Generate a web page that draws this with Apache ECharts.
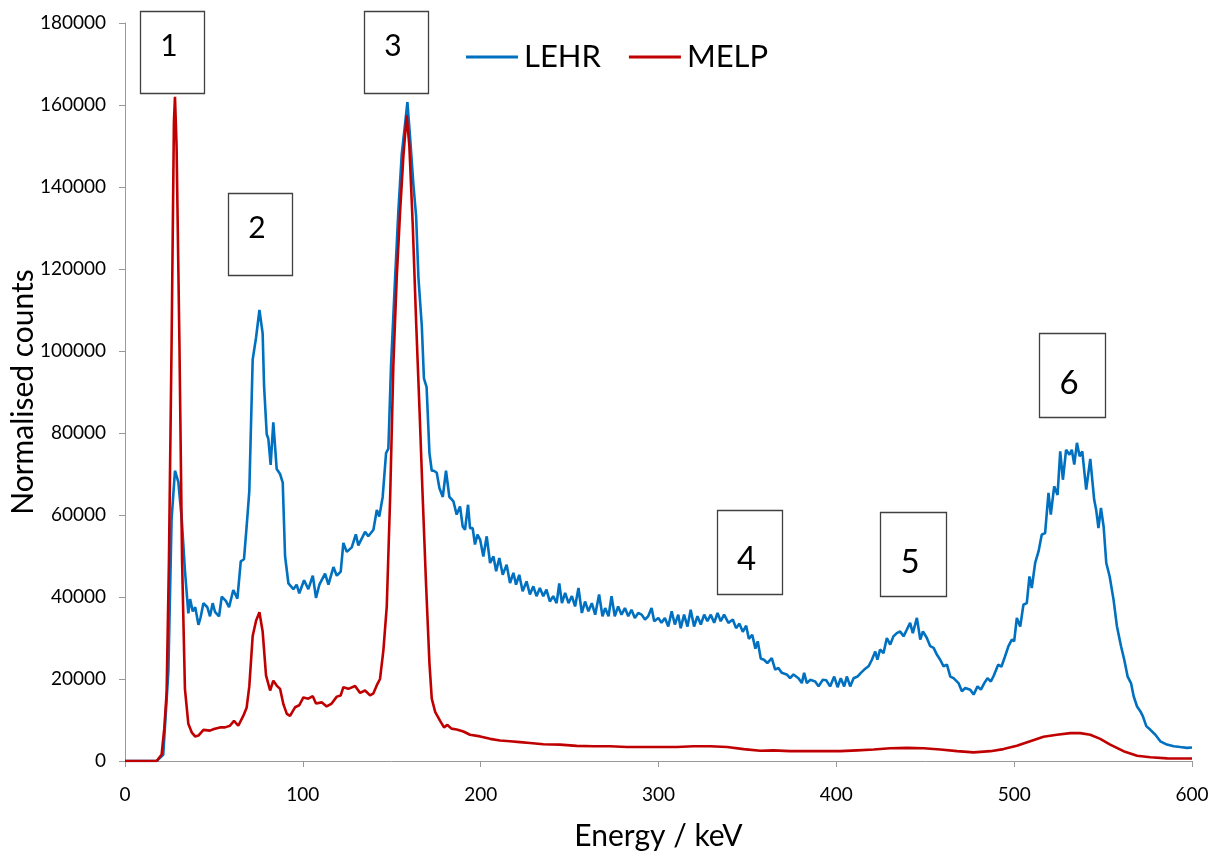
<!DOCTYPE html>
<html><head><meta charset="utf-8">
<script src="https://cdn.jsdelivr.net/npm/echarts@6/dist/echarts.min.js"></script>
<style>html,body{margin:0;padding:0;background:#fff}#c{width:1224px;height:861px}</style>
</head><body><div id="c"></div>
<script>
// ---- data ----
const seriesNames = ['LEHR', 'MELP'];

const lehrEnergy = [0,10,17.8,21.5,24.4,26.2,28.1,30.0,31.9,33.7,35.6,36.6,38.1,39.5,41.3,42.5,44.1,46.3,47.8,49.3,50.6,52.9,54.4,56.8,58.5,60.9,63.2,65.1,66.9,68.4,69.9,71.8,73.7,75.6,77.4,78.2,79.7,80.6,81.9,83.4,85.3,87.2,88.7,90.0,91.9,94.7,96.5,98.0,100.7,103.1,105.6,107.4,109.3,112.5,114.4,117.2,119.1,121.3,122.8,124.7,127.5,129.8,131.2,135.0,136.8,139.7,141.6,143.0,144.9,146.8,148.1,149.6,151.9,153.7,155.6,157.5,158.8,160.3,162.2,163.7,165.0,166.9,168.1,169.6,171.2,172.5,173.7,175.3,176.8,178.7,180.5,182.4,184.7,186.5,188.4,189.9,191.2,192.9,194.0,195.5,196.8,198.2,199.7,201.5,203.4,205.3,207.2,208.7,210.5,212.4,214.6,216.5,218.4,219.9,221.7,223.6,225.8,227.7,229.6,231.4,233.3,235.2,237.0,238.9,240.8,242.7,244.2,245.7,247.5,249.4,251.3,253.1,255.0,256.9,258.7,260.6,262.5,264.4,266.6,268.5,270.0,271.9,273.6,275.4,277.3,279.2,281.1,283.0,284.8,286.7,288.6,290.5,292.4,294.2,296.1,297.6,299.9,301.7,303.6,305.5,307.4,309.2,311.1,312.5,314.4,316.3,318.1,320.0,321.9,323.8,325.7,327.5,329.4,331.3,333.2,335.0,336.9,339.3,341.8,343.6,345.5,347.4,349.3,350.8,352.7,354.5,355.8,357.5,359.3,361.2,363.7,365.6,367.4,369.3,372.1,374.0,375.9,378.7,380.6,381.9,383.4,385.3,388.1,390.0,392.4,394.3,396.5,398.8,400.7,402.5,404.4,405.9,407.8,409.7,411.9,413.8,415.7,418.1,420.0,421.9,423.1,424.6,426.5,428.4,430.3,432.1,434.0,435.9,437.8,439.6,441.5,443.0,445.3,447.2,448.7,450.9,452.8,454.7,456.6,458.4,460.3,462.2,464.1,465.9,468.7,470.6,472.5,475.3,477.2,479.4,481.3,483.2,485.0,486.9,488.5,491.0,492.8,494.7,496.8,498.7,500.0,501.5,503.4,505.2,507.1,508.6,509.9,511.8,513.7,515.5,517.4,519.3,520.6,522.5,524.4,525.9,527.4,529.2,531.1,532.4,533.8,535.3,536.8,538.3,540.5,542.8,545.0,546.1,547.4,548.8,550.3,551.8,553.7,555.9,557.8,560.1,561.9,563.8,565.7,567.2,569.1,571.0,572.4,574.3,576.6,579.4,582.2,585.9,589.7,593.4,597.2,600];
const lehrCounts = [0,0,0,1500,22000,59000,70800,68000,59000,46500,36000,39500,36500,37500,33200,35000,38500,37500,35300,38500,36400,35300,40100,39000,37500,41700,39600,48700,49200,57200,65800,97900,103300,110000,104300,91500,79700,78600,72200,82600,71200,70000,67900,50000,43300,41900,43000,40900,44100,41900,45200,39800,43000,45700,43000,47300,45200,46200,53200,51000,52100,55300,52600,55900,54800,56400,61200,59600,64400,75100,76200,96500,118000,134000,147900,155400,160700,152200,140400,132900,117900,106100,93300,91200,75100,70800,70800,70300,66600,64400,70800,64400,63300,60100,62100,57200,56400,62500,56800,56800,52800,55200,54000,49900,54800,48300,49900,46300,49500,45400,47900,43400,45900,43000,45400,41400,43800,40600,42600,40200,42200,40200,41800,38900,40200,38500,43300,38500,41000,38500,40200,37700,42200,36100,38900,36500,38500,35700,40600,35300,37300,35300,40200,35300,37700,35700,37300,35300,36900,34900,36100,35700,34500,35300,37300,34100,34900,33700,34900,32800,36500,33300,35700,32400,35700,32800,36900,32800,35300,33300,35700,34100,35700,33700,36100,34100,35700,33700,34500,32400,33500,31500,33000,29800,30800,27400,29200,25000,24700,23900,25100,22300,22700,21500,21100,20200,21100,20200,19000,21500,19000,19800,19400,18200,19800,19700,18200,20600,18000,20200,18200,20600,18200,20200,20600,21500,22300,23100,24700,26700,24700,27200,26300,30000,28400,30400,31200,31600,30400,32000,33700,31200,34900,29600,31600,30000,28000,27600,25900,24700,23100,23500,20600,20200,19000,17000,17800,17400,16200,18200,17400,19000,20200,19400,20800,23500,23000,25300,28000,29600,29200,34900,32800,38100,38500,45000,42200,48300,51100,55200,55600,65400,60100,67000,64900,75500,68600,75900,74700,75900,72300,77600,74300,75500,66200,73700,63700,61300,56800,61700,57200,48300,45000,39300,32800,28000,24700,20600,19000,15800,13300,12100,10900,8500,7600,6400,4800,4000,3600,3400,3200,3300];

const melpEnergy = [0,10,17.8,20.6,22.1,23.4,24.7,26.2,27.5,28.1,29.0,30.6,32.1,33.7,35.6,37.5,39.4,41.3,44.1,47.8,50.0,53.4,56.2,59.0,61.3,63.7,66.5,68.4,69.9,71.8,73.7,75.6,77.4,79.3,81.6,83.4,85.3,87.2,89.1,91.0,92.8,95.6,98.0,100.3,103.1,105.6,107.4,110.6,113.4,116.2,119.1,121.3,122.8,125.6,129.4,132.2,135.0,137.8,139.7,141.6,143.4,145.3,147.2,149.1,150.9,152.8,154.7,156.6,158.4,159.9,161.8,163.7,165.6,167.4,169.3,171.2,172.5,174.4,177.2,179.4,181.3,183.6,186.5,190.3,194.0,199.7,205.3,210.9,216.5,222.1,227.7,235.2,244.6,254.0,263.4,272.8,282.2,291.5,300.9,310.3,319.7,329.1,338.5,347.9,357.2,364.6,374.0,383.4,392.8,402.2,411.6,421.0,430.3,439.7,449.1,458.5,467.9,477.2,486.6,494.0,501.5,509.0,516.5,524.0,531.6,537.2,542.8,548.4,554.0,561.5,569.1,576.6,586.0,600];
const melpCounts = [0,0,0,1600,8000,16600,48700,102000,155700,162000,150000,102000,48700,17600,9100,7000,6000,6200,7600,7400,7800,8200,8200,8600,9800,8600,11000,13000,18200,30500,34200,36300,31600,20900,17200,19600,18400,17600,13800,11500,11000,13100,13600,15500,15200,15800,14000,14300,13300,14000,15700,16000,18000,17600,18300,16600,17200,16000,16500,18500,20000,27000,37700,64400,96500,117900,134000,147900,157500,150000,130800,107200,85800,64400,43000,23800,15200,12000,9800,8200,8800,7900,7700,7200,6400,6000,5400,5000,4800,4600,4400,4100,4000,3700,3600,3600,3400,3400,3400,3400,3600,3600,3400,2900,2500,2600,2400,2400,2400,2400,2600,2800,3100,3200,3100,2800,2400,2100,2400,2900,3700,4800,5900,6400,6800,6800,6400,5400,4000,2400,1300,900,650,600];

const annotationLabels = ['1','2','3','4','5','6'];

// ---- chart ----
const FONT = 'Lato';
const chart = echarts.init(document.getElementById('c'), null, {renderer: 'canvas'});

const boxes = [
  {l:140, t:11,  w:64, h:82, fs:30, dy:35.5},
  {l:228, t:193, w:64, h:82, fs:30, dy:35.5},
  {l:364, t:11,  w:64, h:82, fs:30, dy:35.5},
  {l:717, t:510, w:65, h:84, fs:33, dy:49},
  {l:880, t:512, w:66, h:84, fs:33, dy:50},
  {l:1039,t:333, w:66, h:84, fs:33, dy:50}
];
const graphics = [];
boxes.forEach((b, i) => {
  graphics.push({
    type: 'rect', z: 100,
    shape: {x: b.l + 0.5, y: b.t + 0.5, width: b.w, height: b.h},
    style: {fill: '#fff', stroke: '#404040', lineWidth: 1.3}
  });
  graphics.push({
    type: 'text', z: 101,
    x: b.l + b.w / 2 - 3, y: b.t + b.dy,
    style: {text: annotationLabels[i], fontFamily: FONT, fontSize: b.fs, fill: '#000',
            align: 'center', verticalAlign: 'middle'}
  });
});

const axisGray = '#9a9a9a';
chart.setOption({
  animation: false,
  backgroundColor: '#fff',
  textStyle: {fontFamily: FONT},
  grid: {left: 125, right: 32, top: 23, bottom: 100, containLabel: false, outerBoundsMode: 'none'},
  legend: {
    left: 466, top: 41, padding: 0, itemGap: 28,
    itemWidth: 52, itemHeight: 3, icon: 'rect',
    textStyle: {fontFamily: FONT, fontSize: 31, color: '#000', lineHeight: 32, padding: [0,0,0,1]},
    data: seriesNames
  },
  xAxis: {
    type: 'value', min: 0, max: 600, interval: 100,
    name: 'Energy / keV', nameLocation: 'middle', nameGap: 60,
    nameTextStyle: {fontFamily: FONT, fontSize: 30, color: '#000'},
    axisLine: {show: true, lineStyle: {color: axisGray, width: 1}},
    axisTick: {show: true, length: 6, lineStyle: {color: axisGray}},
    axisLabel: {fontFamily: FONT, fontSize: 19, color: '#000', margin: 24},
    splitLine: {show: false}
  },
  yAxis: {
    type: 'value', min: 0, max: 180000, interval: 20000,
    name: 'Normalised counts', nameLocation: 'middle', nameGap: 87, nameRotate: 90,
    nameMoveOverlap: false,
    nameTextStyle: {fontFamily: FONT, fontSize: 30, color: '#000'},
    axisLine: {show: true, lineStyle: {color: axisGray, width: 1}},
    axisTick: {show: true, length: 6, lineStyle: {color: axisGray}},
    axisLabel: {fontFamily: FONT, fontSize: 19, color: '#000', margin: 19, formatter: v => String(v)},
    splitLine: {show: false}
  },
  series: [
    {name: seriesNames[0], type: 'line', showSymbol: false, symbol: 'none',
     lineStyle: {color: '#0070C0', width: 2.6}, itemStyle: {color: '#0070C0'},
     data: lehrEnergy.map((e, i) => [e, lehrCounts[i]]), z: 2},
    {name: seriesNames[1], type: 'line', showSymbol: false, symbol: 'none',
     lineStyle: {color: '#C00000', width: 2.6}, itemStyle: {color: '#C00000'},
     data: melpEnergy.map((e, i) => [e, melpCounts[i]]), z: 3}
  ],
  graphic: graphics
});
</script></body></html>
